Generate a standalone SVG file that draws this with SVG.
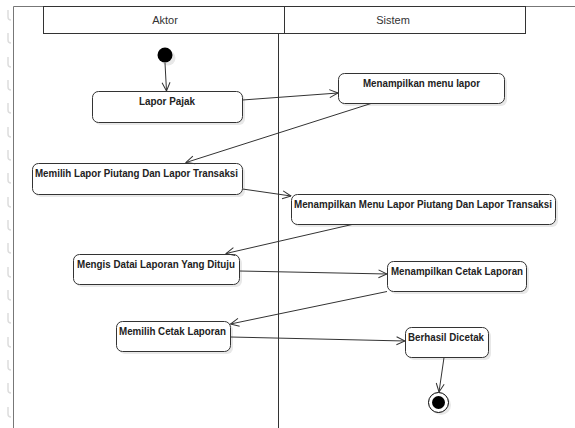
<svg xmlns="http://www.w3.org/2000/svg" width="575" height="428" viewBox="0 0 575 428">
<defs>
<style>
.act{fill:#fff;stroke:#333;stroke-width:1}
.sh{fill:#e8e8e8;stroke:none}
.lbl{font-family:"Liberation Sans",Arial,sans-serif;font-size:10.5px;font-weight:bold;fill:#222;text-anchor:middle}
.hdr{font-family:"Liberation Sans",Arial,sans-serif;font-size:11px;fill:#333;text-anchor:middle}
.edge{fill:none;stroke:#333;stroke-width:1;marker-end:url(#arr)}
.um{fill:none;stroke:#ddd;stroke-width:1.5}
</style>
<marker id="arr" viewBox="0 0 10 10" refX="9.5" refY="5" markerWidth="10" markerHeight="10" markerUnits="userSpaceOnUse" orient="auto">
<path d="M1,1 L9.5,5 L1,9" fill="none" stroke="#333" stroke-width="1"/>
</marker>
</defs>
<rect width="575" height="428" fill="#fff"/>
<g id="margin-marks">
<path class="um" d="M8,10 v7 q0,3 3,3"/>
<path class="um" d="M8,33 v7 q0,3 3,3"/>
<path class="um" d="M8,57 v7 q0,3 3,3"/>
<path class="um" d="M8,80 v7 q0,3 3,3"/>
<path class="um" d="M8,103 v7 q0,3 3,3"/>
<path class="um" d="M8,127 v7 q0,3 3,3"/>
<path class="um" d="M8,150 v7 q0,3 3,3"/>
<path class="um" d="M8,173 v7 q0,3 3,3"/>
<path class="um" d="M8,197 v7 q0,3 3,3"/>
<path class="um" d="M8,220 v7 q0,3 3,3"/>
<path class="um" d="M8,243 v7 q0,3 3,3"/>
<path class="um" d="M8,267 v7 q0,3 3,3"/>
<path class="um" d="M8,290 v7 q0,3 3,3"/>
<path class="um" d="M8,313 v7 q0,3 3,3"/>
<path class="um" d="M8,337 v7 q0,3 3,3"/>
<path class="um" d="M8,360 v7 q0,3 3,3"/>
<path class="um" d="M8,383 v7 q0,3 3,3"/>
<path class="um" d="M8,407 v7 q0,3 3,3"/>
</g>
<g id="frame">
<path d="M13.5,428 V6.5 H575" fill="none" stroke="#777" stroke-width="1"/>
</g>
<g id="swimlanes">
<rect x="43.5" y="6.5" width="482" height="27" fill="#fff" stroke="#333"/>
<line x1="284.5" y1="6.5" x2="284.5" y2="33.5" stroke="#333"/>
<line x1="278.5" y1="33.5" x2="278.5" y2="428" stroke="#333"/>
<text class="hdr" x="165" y="24">Aktor</text>
<text class="hdr" x="393" y="24">Sistem</text>
</g>
<g id="start">
<circle cx="168" cy="58" r="7.5" fill="#e8e8e8"/>
<circle cx="165" cy="55" r="7.5" fill="#000"/>
</g>
<g id="lapor-pajak">
<rect class="sh" x="95" y="94" width="150" height="31" rx="6"/>
<rect class="act" x="92.5" y="91.5" width="150" height="31" rx="6"/>
<text class="lbl" x="167" y="105" textLength="56" lengthAdjust="spacingAndGlyphs">Lapor Pajak</text>
</g>
<g id="menampilkan-menu-lapor">
<rect class="sh" x="341" y="76" width="166" height="30" rx="6"/>
<rect class="act" x="338.5" y="73.5" width="166" height="30" rx="6"/>
<text class="lbl" x="421.5" y="87" textLength="117" lengthAdjust="spacingAndGlyphs">Menampilkan menu lapor</text>
</g>
<g id="memilih-lapor-piutang">
<rect class="sh" x="35" y="166" width="210" height="31" rx="6"/>
<rect class="act" x="32.5" y="163.5" width="210" height="31" rx="6"/>
<text class="lbl" x="136.5" y="177" textLength="203" lengthAdjust="spacingAndGlyphs">Memilih Lapor Piutang Dan Lapor Transaksi</text>
</g>
<g id="menampilkan-menu-piutang">
<rect class="sh" x="294" y="197" width="264" height="30" rx="6"/>
<rect class="act" x="291.5" y="194.5" width="264" height="30" rx="6"/>
<text class="lbl" x="423" y="208" textLength="258" lengthAdjust="spacingAndGlyphs">Menampilkan Menu Lapor Piutang Dan Lapor Transaksi</text>
</g>
<g id="mengis-datai">
<rect class="sh" x="76" y="257" width="166" height="30" rx="6"/>
<rect class="act" x="73.5" y="254.5" width="166" height="30" rx="6"/>
<text class="lbl" x="156" y="268" textLength="158" lengthAdjust="spacingAndGlyphs">Mengis Datai Laporan Yang Dituju</text>
</g>
<g id="menampilkan-cetak">
<rect class="sh" x="390" y="264" width="139" height="30" rx="6"/>
<rect class="act" x="387.5" y="261.5" width="139" height="30" rx="6"/>
<text class="lbl" x="457" y="275" textLength="132" lengthAdjust="spacingAndGlyphs">Menampilkan Cetak Laporan</text>
</g>
<g id="memilih-cetak">
<rect class="sh" x="119" y="324" width="114" height="30" rx="6"/>
<rect class="act" x="116.5" y="321.5" width="114" height="30" rx="6"/>
<text class="lbl" x="172.5" y="335" textLength="107" lengthAdjust="spacingAndGlyphs">Memilih Cetak Laporan</text>
</g>
<g id="berhasil-dicetak">
<rect class="sh" x="408" y="330" width="83" height="30" rx="6"/>
<rect class="act" x="405.5" y="327.5" width="83" height="30" rx="6"/>
<text class="lbl" x="446" y="341" textLength="76" lengthAdjust="spacingAndGlyphs">Berhasil Dicetak</text>
</g>
<g id="end">
<circle cx="441" cy="405" r="10" fill="#e8e8e8"/>
<circle cx="438.5" cy="402.5" r="10" fill="#fff" stroke="#000" stroke-width="1"/>
<circle cx="438.5" cy="402.5" r="6.5" fill="#000"/>
</g>
<g id="connectors">
<path class="edge" d="M165,63 L166.5,91"/>
<path class="edge" d="M242.5,100 L338,93"/>
<path class="edge" d="M371,103.5 L186,162.5"/>
<path class="edge" d="M242.5,189 L291,196"/>
<path class="edge" d="M352,224.5 L226,253.5"/>
<path class="edge" d="M239.5,271 L387,274"/>
<path class="edge" d="M387,291.5 L230.5,324"/>
<path class="edge" d="M230.5,337 L405,341"/>
<path class="edge" d="M444,357.5 L439,392"/>
</g>
</svg>
